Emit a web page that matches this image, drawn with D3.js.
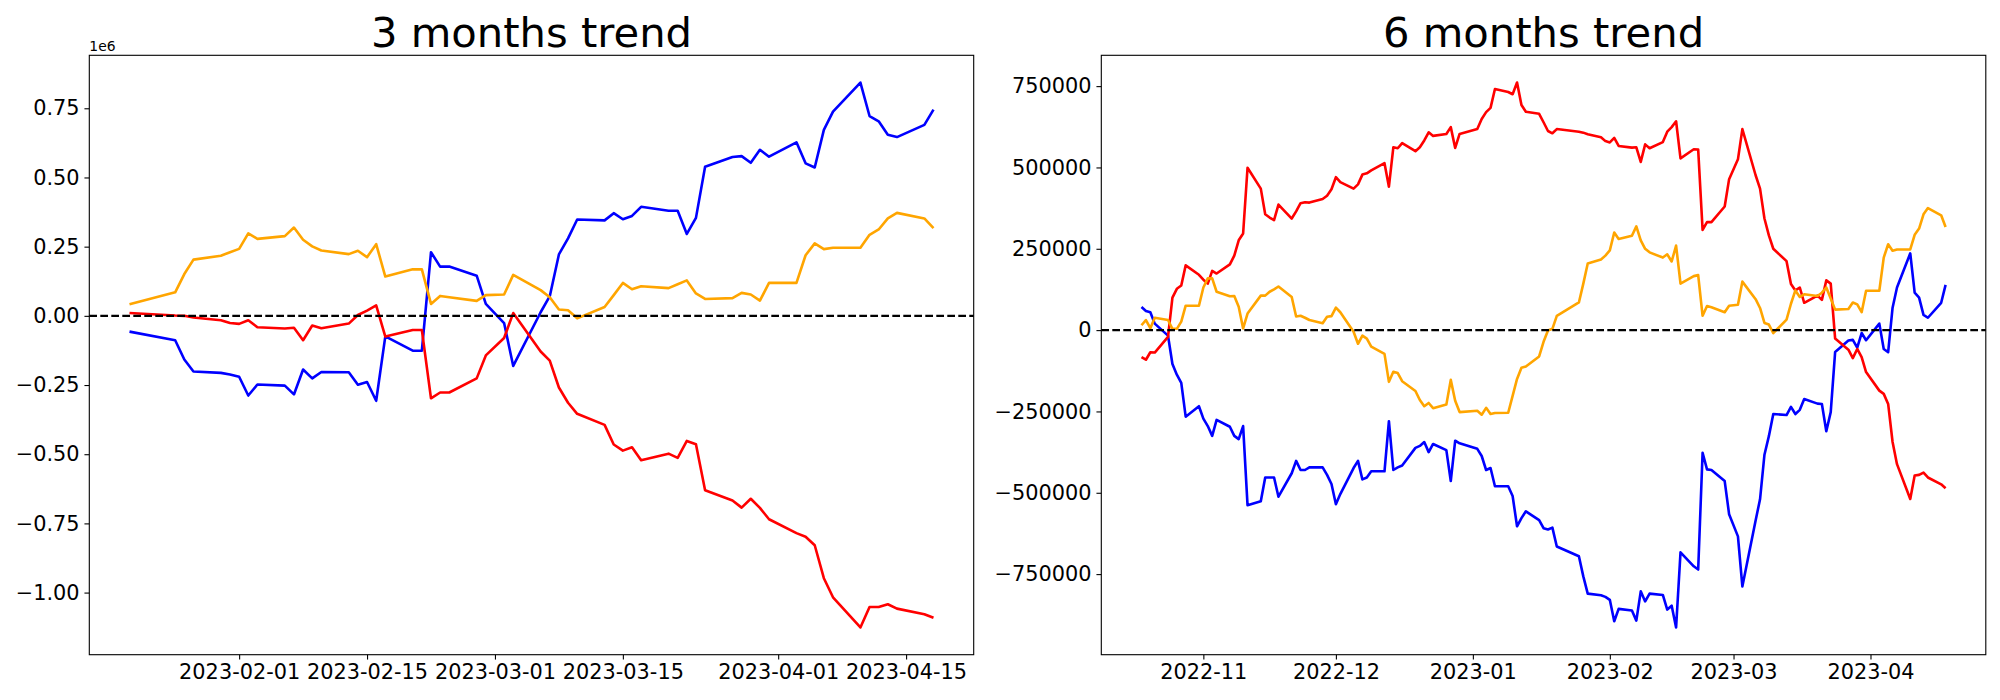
<!DOCTYPE html>
<html>
<head>
<meta charset="utf-8">
<script src="https://cdn.jsdelivr.net/npm/d3@7"></script>
<style>
  html, body { margin: 0; padding: 0; background: #fff; }
  svg { display: block; }
  text { font-family: "DejaVu Sans", sans-serif; fill: #000; }
</style>
</head>
<body>
<svg id="chart" width="2000" height="700"></svg>
<script>
// ---------------- DATA: 3 months ----------------
const dates3 = ["2023-01-20","2023-01-25","2023-01-26","2023-01-27","2023-01-30","2023-01-31",
"2023-02-01","2023-02-02","2023-02-03","2023-02-06","2023-02-07","2023-02-08","2023-02-09","2023-02-10","2023-02-13","2023-02-14","2023-02-15","2023-02-16","2023-02-17","2023-02-20","2023-02-21","2023-02-22","2023-02-23","2023-02-24","2023-02-27","2023-02-28",
"2023-03-02","2023-03-03","2023-03-06","2023-03-07","2023-03-08","2023-03-09","2023-03-10","2023-03-13","2023-03-14","2023-03-15","2023-03-16","2023-03-17","2023-03-20","2023-03-21","2023-03-22","2023-03-23","2023-03-24","2023-03-27","2023-03-28","2023-03-29","2023-03-30","2023-03-31",
"2023-04-03","2023-04-04","2023-04-05","2023-04-06","2023-04-07","2023-04-10","2023-04-11","2023-04-12","2023-04-13","2023-04-14","2023-04-17","2023-04-18"];

const blue3 = [-57000,-88000,-158000,-201000,-206000,-212000,
-220000,-288000,-248000,-252000,-284000,-194000,-226000,-203000,-204000,-249000,-239000,-307000,-74000,-126000,-126000,230000,178000,178000,145000,43000,
-26000,-181000,13000,71000,222000,280000,348000,345000,371000,349000,361000,394000,380000,380000,296000,354000,539000,574000,577000,553000,600000,575000,
627000,551000,536000,672000,738000,843000,722000,703000,654000,646000,690000,745000];

const red3 = [10000,1000,0,-6000,-16000,-26000,
-29000,-16000,-41000,-46000,-43000,-88000,-35000,-45000,-28000,3000,19000,38000,-75000,-51000,-51000,-298000,-277000,-277000,-226000,-143000,
-80000,10000,-129000,-162000,-259000,-314000,-354000,-394000,-465000,-487000,-475000,-522000,-498000,-513000,-452000,-464000,-630000,-667000,-693000,-661000,-694000,-735000,
-785000,-798000,-829000,-948000,-1017000,-1126000,-1052000,-1052000,-1042000,-1058000,-1078000,-1091000];

const orange3 = [42000,85000,151000,203000,217000,230000,
242000,298000,278000,288000,319000,275000,251000,236000,223000,235000,212000,259000,142000,168000,168000,43000,72000,67000,54000,75000,
77000,148000,93000,67000,23000,20000,-9000,32000,75000,119000,96000,107000,100000,114000,128000,81000,61000,64000,83000,77000,55000,119000,
119000,219000,262000,241000,246000,246000,293000,312000,352000,372000,352000,317000];

const xTicks3 = ["2023-02-01","2023-02-15","2023-03-01","2023-03-15","2023-04-01","2023-04-15"];
const yTicks3 = [750000,500000,250000,0,-250000,-500000,-750000,-1000000];
const yLabels3 = ["0.75","0.50","0.25","0.00","\u22120.25","\u22120.50","\u22120.75","\u22121.00"];

// ---------------- DATA: 6 months ----------------
const dates6 = ["2022-10-18","2022-10-19","2022-10-20","2022-10-21","2022-10-24","2022-10-25","2022-10-26","2022-10-27","2022-10-28","2022-10-31",
"2022-11-01","2022-11-02","2022-11-03","2022-11-04","2022-11-07","2022-11-08","2022-11-09","2022-11-10","2022-11-11","2022-11-14","2022-11-15","2022-11-16","2022-11-17","2022-11-18","2022-11-21","2022-11-22","2022-11-23","2022-11-24","2022-11-25","2022-11-28","2022-11-29","2022-11-30",
"2022-12-01","2022-12-02","2022-12-05","2022-12-06","2022-12-07","2022-12-08","2022-12-09","2022-12-12","2022-12-13","2022-12-14","2022-12-15","2022-12-16","2022-12-19","2022-12-20","2022-12-21","2022-12-22","2022-12-23","2022-12-26","2022-12-27","2022-12-28","2022-12-29",
"2023-01-02","2023-01-03","2023-01-04","2023-01-05","2023-01-06","2023-01-09","2023-01-10","2023-01-11","2023-01-12","2023-01-13","2023-01-16","2023-01-17","2023-01-18","2023-01-19","2023-01-20","2023-01-25","2023-01-26","2023-01-27","2023-01-30","2023-01-31",
"2023-02-01","2023-02-02","2023-02-03","2023-02-06","2023-02-07","2023-02-08","2023-02-09","2023-02-10","2023-02-13","2023-02-14","2023-02-15","2023-02-16","2023-02-17","2023-02-20","2023-02-21","2023-02-22","2023-02-23","2023-02-24","2023-02-27","2023-02-28",
"2023-03-02","2023-03-03","2023-03-06","2023-03-07","2023-03-08","2023-03-09","2023-03-10","2023-03-13","2023-03-14","2023-03-15","2023-03-16","2023-03-17","2023-03-20","2023-03-21","2023-03-22","2023-03-23","2023-03-24","2023-03-27","2023-03-28","2023-03-29","2023-03-30","2023-03-31",
"2023-04-03","2023-04-04","2023-04-05","2023-04-06","2023-04-07","2023-04-10","2023-04-11","2023-04-12","2023-04-13","2023-04-14","2023-04-17","2023-04-18"];

const blue6 = [71000,59000,55000,20000,-17000,-104000,-137000,-162000,-266000,-234000,
-272000,-295000,-325000,-276000,-297000,-325000,-335000,-295000,-538000,-526000,-453000,-453000,-453000,-512000,-440000,-402000,-430000,-430000,-422000,-422000,-445000,-473000,
-535000,-504000,-424000,-402000,-459000,-453000,-434000,-434000,-280000,-430000,-422000,-416000,-362000,-356000,-344000,-375000,-350000,-369000,-464000,-340000,-348000,
-365000,-387000,-430000,-424000,-480000,-480000,-510000,-603000,-578000,-557000,-584000,-609000,-613000,-607000,-665000,-695000,-757000,-810000,-815000,-820000,
-829000,-895000,-857000,-862000,-893000,-803000,-834000,-810000,-814000,-859000,-847000,-914000,-683000,-726000,-736000,-377000,-428000,-430000,-464000,-566000,
-634000,-788000,-585000,-520000,-383000,-326000,-258000,-261000,-236000,-258000,-245000,-212000,-226000,-227000,-311000,-252000,-67000,-32000,-30000,-54000,-9000,-31000,
20000,-58000,-68000,69000,131000,236000,115000,100000,47000,38000,84000,139000];

const red6 = [-83000,-91000,-68000,-69000,-21000,100000,127000,137000,199000,170000,
155000,143000,182000,174000,202000,229000,276000,297000,499000,435000,356000,346000,338000,386000,343000,365000,390000,393000,392000,403000,413000,433000,
470000,455000,435000,448000,478000,482000,491000,513000,441000,562000,559000,575000,550000,562000,583000,608000,597000,603000,624000,560000,603000,
618000,649000,670000,683000,741000,732000,725000,761000,692000,671000,665000,639000,612000,605000,618000,610000,607000,602000,593000,581000,
577000,591000,566000,561000,562000,517000,571000,559000,578000,610000,624000,642000,528000,556000,555000,308000,332000,332000,380000,464000,
525000,618000,476000,435000,343000,291000,250000,212000,142000,122000,131000,84000,106000,93000,153000,143000,-26000,-60000,-86000,-58000,-83000,-129000,
-186000,-196000,-227000,-344000,-412000,-519000,-447000,-445000,-438000,-453000,-474000,-486000];

const orange6 = [15000,31000,6000,38000,31000,4000,4000,26000,75000,75000,
131000,159000,159000,118000,104000,105000,72000,5000,51000,106000,106000,118000,125000,134000,102000,42000,44000,38000,31000,21000,41000,43000,
69000,55000,-5000,-42000,-17000,-26000,-51000,-73000,-159000,-128000,-132000,-157000,-187000,-215000,-234000,-224000,-240000,-229000,-153000,-217000,-252000,
-248000,-260000,-239000,-258000,-255000,-254000,-202000,-150000,-116000,-112000,-81000,-36000,-1000,4000,44000,85000,143000,205000,217000,229000,
245000,300000,280000,290000,319000,276000,250000,239000,223000,233000,211000,260000,143000,166000,169000,44000,74000,70000,55000,75000,
78000,149000,95000,68000,22000,17000,-9000,32000,81000,122000,102000,110000,105000,115000,131000,97000,63000,65000,85000,79000,55000,121000,
121000,223000,264000,244000,248000,248000,293000,312000,356000,375000,353000,317000];

const xTicks6 = ["2022-11-01","2022-12-01","2023-01-01","2023-02-01","2023-03-01","2023-04-01"];
const xLabels6 = ["2022-11","2022-12","2023-01","2023-02","2023-03","2023-04"];
const yTicks6 = [750000,500000,250000,0,-250000,-500000,-750000];
const yLabels6 = ["750000","500000","250000","0","\u2212250000","\u2212500000","\u2212750000"];

const seriesColors = ["#0000ff","#ff0000","#ffa500"];

// ---------------- DRAWING ----------------
const parse = d3.utcParse("%Y-%m-%d");
const svg = d3.select("#chart");
svg.append("rect").attr("width",2000).attr("height",700).attr("fill","#fff");

const TICK = 4.86, PAD = 4.86, FS = 20.83;

function panel(cfg) {
  const g = svg.append("g");
  const dates = cfg.dates.map(parse);
  const allVals = cfg.series.flat();
  const t0 = +dates[0], t1 = +dates[dates.length-1];
  const tp = (t1 - t0) * 0.05;
  const x = d3.scaleUtc().domain([new Date(t0 - tp), new Date(t1 + tp)]).range([cfg.x0, cfg.x1]);
  const vmin = d3.min(allVals), vmax = d3.max(allVals);
  const vp = (vmax - vmin) * 0.05;
  const y = d3.scaleLinear().domain([vmin - vp, vmax + vp]).range([cfg.y1, cfg.y0]);

  // series
  const line = d3.line().x((d,i) => x(dates[i])).y(d => y(d));
  cfg.series.forEach((s, k) => {
    g.append("path").datum(s)
      .attr("d", line)
      .attr("fill","none")
      .attr("stroke", seriesColors[k])
      .attr("stroke-width", 2.6)
      .attr("stroke-linejoin","round")
      .attr("stroke-linecap","butt");
  });

  // zero line
  g.append("line")
    .attr("x1", cfg.x0).attr("x2", cfg.x1)
    .attr("y1", y(0)).attr("y2", y(0))
    .attr("stroke","#000").attr("stroke-width",2.08)
    .attr("stroke-dasharray","7.7,3.3");

  // axes
  const xa = d3.axisBottom(x)
    .tickValues(cfg.xTicks.map(parse))
    .tickFormat((d,i) => cfg.xLabels[i])
    .tickSize(TICK).tickPadding(PAD).tickSizeOuter(0);
  const gx = g.append("g").attr("transform", `translate(0,${cfg.y1})`).call(xa);
  gx.select(".domain").remove();
  gx.selectAll("line").attr("stroke","#000").attr("stroke-width",1.1);
  gx.selectAll("text").attr("font-size",FS).attr("font-family","DejaVu Sans").attr("fill","#000");

  const ya = d3.axisLeft(y)
    .tickValues(cfg.yTicks)
    .tickFormat((d,i) => cfg.yLabels[i])
    .tickSize(TICK).tickPadding(PAD).tickSizeOuter(0);
  const gy = g.append("g").attr("transform", `translate(${cfg.x0},0)`).call(ya);
  gy.select(".domain").remove();
  gy.selectAll("line").attr("stroke","#000").attr("stroke-width",1.1);
  gy.selectAll("text").attr("font-size",FS).attr("font-family","DejaVu Sans").attr("fill","#000");

  // spines
  g.append("rect")
    .attr("x", cfg.x0).attr("y", cfg.y0)
    .attr("width", cfg.x1 - cfg.x0).attr("height", cfg.y1 - cfg.y0)
    .attr("fill","none").attr("stroke","#000").attr("stroke-width",1.1);

  // title
  g.append("text")
    .attr("x", (cfg.x0 + cfg.x1)/2).attr("y", cfg.y0 - 8.3)
    .attr("text-anchor","middle")
    .attr("font-size", 41.7)
    .text(cfg.title);

  if (cfg.offset) {
    g.append("text")
      .attr("x", cfg.x0).attr("y", cfg.y0 - 4)
      .attr("font-size", 13.9)
      .text(cfg.offset);
  }
}

panel({
  title: "3 months trend",
  dates: dates3, series: [blue3, red3, orange3],
  x0: 89.3, x1: 973.7, y0: 55.3, y1: 654.7,
  xTicks: xTicks3, xLabels: xTicks3,
  yTicks: yTicks3, yLabels: yLabels3,
  offset: "1e6"
});

panel({
  title: "6 months trend",
  dates: dates6, series: [blue6, red6, orange6],
  x0: 1101.3, x1: 1985.8, y0: 55.3, y1: 654.7,
  xTicks: xTicks6, xLabels: xLabels6,
  yTicks: yTicks6, yLabels: yLabels6
});
</script>
</body>
</html>
